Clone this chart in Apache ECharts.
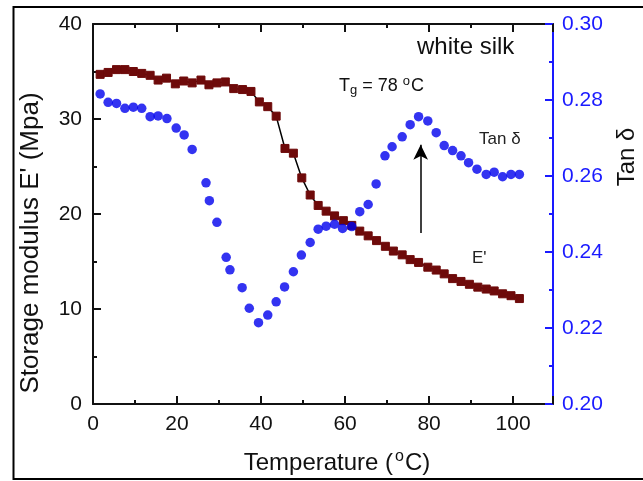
<!DOCTYPE html>
<html>
<head>
<meta charset="utf-8">
<script src="https://cdn.jsdelivr.net/npm/echarts@6/dist/echarts.min.js"></script>
<style>
  html, body { margin: 0; padding: 0; background: #fff; }
  #chart { width: 643px; height: 481px; }
</style>
</head>
<body>
<div id="chart"></div>
<script>
// Storage modulus E' (MPa) of white silk versus temperature
const temperatureE = [1.7, 3.6, 5.6, 7.6, 9.6, 11.6, 13.6, 15.5, 17.5, 19.6, 21.6, 23.6, 25.7, 27.6, 29.5,
  31.5, 33.5, 35.6, 37.6, 39.6, 41.6, 43.6, 45.7, 47.7, 49.7, 51.7, 53.6, 55.5, 57.5, 59.6, 61.6, 63.5,
  65.5, 67.5, 69.6, 71.5, 73.6, 75.5, 77.5, 79.7, 81.7, 83.6, 85.6, 87.6, 89.6, 91.6, 93.6, 95.5, 97.5,
  99.5, 101.5];
const storageModulus = [34.7, 34.9, 35.2, 35.2, 35.0, 34.8, 34.6, 34.1, 34.3, 33.7, 34.0, 33.8, 34.1, 33.6,
  33.8, 33.9, 33.2, 33.1, 32.9, 31.8, 31.3, 30.3, 26.9, 26.4, 23.8, 22.0, 20.9, 20.3, 19.8, 19.3, 18.8,
  18.2, 17.7, 17.2, 16.6, 16.1, 15.7, 15.2, 14.9, 14.4, 14.1, 13.7, 13.2, 12.9, 12.6, 12.3, 12.1, 11.9,
  11.6, 11.4, 11.1];

// Loss factor tan delta versus temperature
const temperatureTan = [1.7, 3.6, 5.6, 7.6, 9.6, 11.6, 13.6, 15.5, 17.6, 19.8, 21.7, 23.6, 26.9, 27.7, 29.5,
  31.7, 32.6, 35.5, 37.2, 39.4, 41.6, 43.6, 45.6, 47.7, 49.6, 51.7, 53.6, 55.5, 57.5, 59.4, 61.6, 63.5,
  65.5, 67.4, 69.5, 71.2, 73.6, 75.5, 77.5, 79.7, 81.7, 83.6, 85.6, 87.6, 89.4, 91.4, 93.6, 95.5, 97.5,
  99.5, 101.5];
const tanDelta = [0.2816, 0.2794, 0.2791, 0.2778, 0.2781, 0.2778, 0.2756, 0.2758, 0.2751, 0.2726, 0.2708,
  0.2670, 0.2582, 0.2535, 0.2478, 0.2386, 0.2353, 0.2306, 0.2252, 0.2214, 0.2234, 0.2269, 0.2308, 0.2348,
  0.2392, 0.2425, 0.2460, 0.2468, 0.2473, 0.2462, 0.2467, 0.2506, 0.2525, 0.2579, 0.2653, 0.2677, 0.2703,
  0.2735, 0.2756, 0.2745, 0.2714, 0.2680, 0.2667, 0.2653, 0.2635, 0.2618, 0.2604, 0.2610, 0.2598, 0.2604,
  0.2604];

// Glass transition marker
const glassTransition = 78;
const arrowFrom = 18.0;
const arrowTo = 27.3;

// Axis ranges and ticks
const tempRange = [0, 109.5];
const tempStep = 20;
const modulusRange = [0, 40];
const modulusStep = 10;
const tanRange = [0.20, 0.30];
const tanStep = 0.02;

const FONT = '"Liberation Sans", Arial, Helvetica, sans-serif';
const BLACK = '#111';
const BLUE = '#1a1aff';
const MAROON = '#6e0a0a';

const zip = (xs, ys) => xs.map((x, i) => [x, ys[i]]);

const tickCommon = (color) => ({
  axisLine: { show: true, onZero: false, lineStyle: { color: color, width: 2 } },
  axisTick: { show: true, inside: true, length: 8, lineStyle: { color: color, width: 2 } },
  minorTick: { show: true, splitNumber: 2, length: 4, lineStyle: { color: color, width: 2 } },
  splitLine: { show: false },
  minorSplitLine: { show: false }
});

const chart = echarts.init(document.getElementById('chart'), null, { renderer: 'canvas' });

chart.setOption({
  animation: false,
  backgroundColor: '#fff',
  grid: { left: 93, top: 24, width: 460, height: 380, outerBoundsMode: 'none' },
  xAxis: [
    Object.assign({
      type: 'value', position: 'bottom',
      min: tempRange[0], max: tempRange[1], interval: tempStep,
      axisLabel: {
        color: BLACK, fontFamily: FONT, fontSize: 21, margin: 10,
        showMaxLabel: false
      }
    }, tickCommon(BLACK)),
    Object.assign({
      type: 'value', position: 'top',
      min: tempRange[0], max: tempRange[1], interval: tempStep,
      axisLabel: { show: false }
    }, tickCommon(BLACK))
  ],
  yAxis: [
    Object.assign({
      type: 'value', position: 'left',
      min: modulusRange[0], max: modulusRange[1], interval: modulusStep,
      axisLabel: { color: BLACK, fontFamily: FONT, fontSize: 21, margin: 11 }
    }, tickCommon(BLACK)),
    Object.assign({
      type: 'value', position: 'right',
      min: tanRange[0], max: tanRange[1], interval: tanStep,
      axisLabel: {
        color: BLUE, fontFamily: FONT, fontSize: 21, margin: 9,
        formatter: (v) => v.toFixed(2)
      }
    }, tickCommon(BLUE))
  ],
  series: [
    {
      name: "E'",
      type: 'line',
      xAxisIndex: 0, yAxisIndex: 0,
      data: zip(temperatureE, storageModulus),
      symbol: 'rect', symbolSize: 8,
      itemStyle: { color: MAROON, borderColor: MAROON },
      lineStyle: { color: '#000', width: 1.5 },
      z: 3,
      markLine: {
        silent: true,
        symbol: ['none', 'arrow'],
        symbolSize: [11, 15],
        label: { show: false },
        lineStyle: { color: '#000', width: 1.5, type: 'solid' },
        data: [[{ coord: [glassTransition, arrowFrom] }, { coord: [glassTransition, arrowTo] }]]
      }
    },
    {
      name: 'Tan δ',
      type: 'scatter',
      xAxisIndex: 0, yAxisIndex: 1,
      data: zip(temperatureTan, tanDelta),
      symbol: 'circle', symbolSize: 9.5,
      itemStyle: { color: '#0000ee' },
      z: 4
    }
  ],
  graphic: [
    // outer frame
    { type: 'rect', shape: { x: 13.5, y: 7, width: 700, height: 472 },
      style: { fill: 'none', stroke: '#000', lineWidth: 2 }, silent: true },
    // axis titles
    { type: 'text', x: 31, y: 243, rotation: Math.PI / 2,
      style: { text: "Storage modulus E' (Mpa)", font: '26px ' + FONT, fill: BLACK,
               align: 'center', verticalAlign: 'middle' } },
    { type: 'text', x: 627, y: 157, rotation: Math.PI / 2,
      style: { text: 'Tan δ', font: '24px ' + FONT, fill: BLACK,
               align: 'center', verticalAlign: 'middle' } },
    { type: 'text', x: 337, y: 463,
      style: { text: '{a|Temperature (}{s|o}{a|C)}', fill: BLACK, align: 'center', verticalAlign: 'middle',
               rich: {
                 a: { fontFamily: FONT, fontSize: 24, fill: BLACK },
                 s: { fontFamily: FONT, fontSize: 16, fill: BLACK, padding: [0, 1, 12, 2] }
               } } },
    // annotations
    { type: 'text', x: 417, y: 47,
      style: { text: 'white silk', font: '24px ' + FONT, fill: BLACK, align: 'left', verticalAlign: 'middle' } },
    { type: 'text', x: 339, y: 86,
      style: { text: '{a|T}{b|g}{a| = 78 }{s|o}{a|C}', fill: BLACK, align: 'left', verticalAlign: 'middle',
               rich: {
                 a: { fontFamily: FONT, fontSize: 18, fill: BLACK },
                 b: { fontFamily: FONT, fontSize: 13, fill: BLACK, padding: [9, 0, 0, 0] },
                 s: { fontFamily: FONT, fontSize: 13, fill: BLACK, padding: [0, 1, 10, 0] }
               } } },
    { type: 'text', x: 479, y: 139,
      style: { text: 'Tan δ', font: '17px ' + FONT, fill: '#222', align: 'left', verticalAlign: 'middle' } },
    { type: 'text', x: 472, y: 258,
      style: { text: "E'", font: '17px ' + FONT, fill: '#222', align: 'left', verticalAlign: 'middle' } }
  ]
});
</script>
</body>
</html>
